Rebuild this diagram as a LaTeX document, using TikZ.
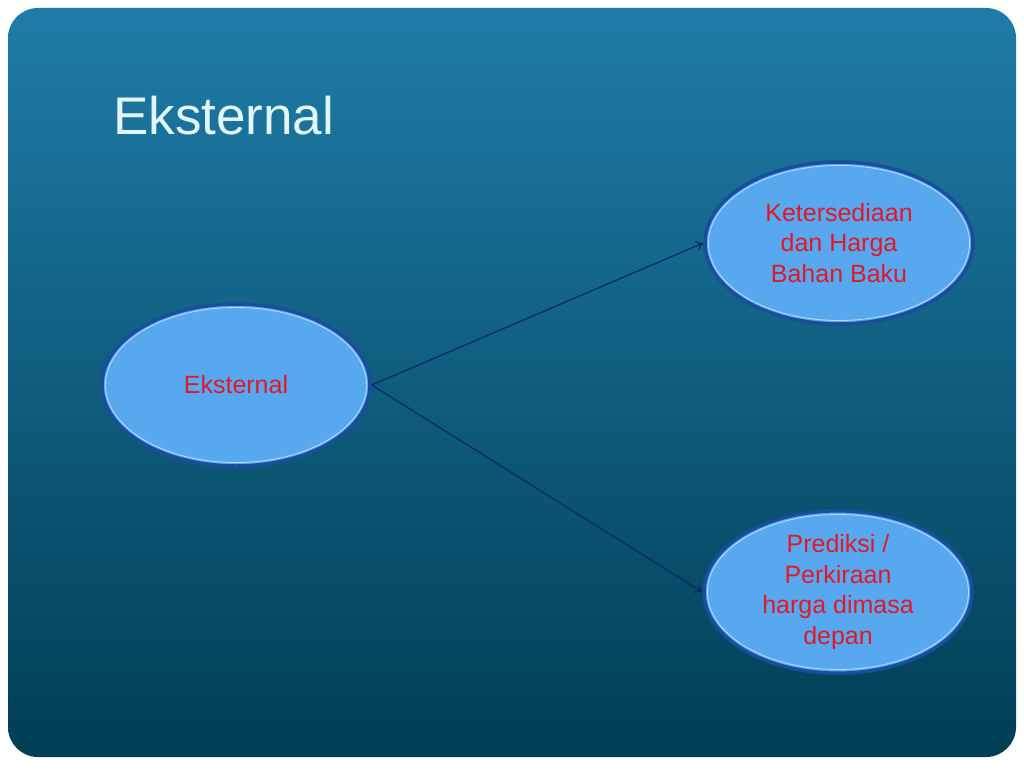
\documentclass[tikz,border=0pt]{standalone}
\usepackage{fontspec}
\setmainfont{Liberation Sans}
\usetikzlibrary{shapes.geometric,arrows.meta}
\definecolor{bgtop}{RGB}{31,124,168}
\definecolor{bgbot}{RGB}{0,62,84}
\definecolor{ellfill}{RGB}{88,168,240}
\definecolor{ellring}{RGB}{24,78,156}
\definecolor{ellinner}{RGB}{190,222,250}
\definecolor{txtred}{RGB}{226,24,40}
\definecolor{titlecol}{RGB}{226,246,250}
\definecolor{arrowcol}{RGB}{10,36,100}
\tikzset{
  bubble/.style={ellipse, draw=ellring, line width=3.5pt, fill=ellfill,
    minimum width=268pt, minimum height=162pt, inner sep=0pt,
    align=center, text=txtred, font=\fontsize{25}{30.5}\selectfont},
  link/.style={draw=arrowcol, line width=1.1pt, -{To[length=7pt,width=10pt]}},
  ring/.style={draw=ellinner, line width=0.8pt}
}
\begin{document}
\begin{tikzpicture}[x=1pt,y=-1pt]
\useasboundingbox (0,0) rectangle (1024,768);
\fill[white] (0,0) rectangle (1024,768);
\shade[top color=bgtop, bottom color=bgbot, rounded corners=30pt] (8,8) rectangle (1016,757);
\node[anchor=base west, text=titlecol, font=\fontsize{53}{60}\selectfont, inner sep=0pt] (title) at (113,134) {Eksternal};
\node[bubble] (ext) at (236,385) {Eksternal};
\node[bubble] (bahan) at (839,243) {Ketersediaan\\dan Harga\\Bahan Baku};
\node[bubble] (pred) at (838,592) {Prediksi /\\Perkiraan\\harga dimasa\\depan};
\foreach \n in {ext,bahan,pred}{
  \draw[ring] (\n.center) ellipse (130.5pt and 77.5pt);
}
\draw[link] (ext.east) -- (bahan.west);
\draw[link] (ext.east) -- (pred.west);
\end{tikzpicture}
\end{document}
